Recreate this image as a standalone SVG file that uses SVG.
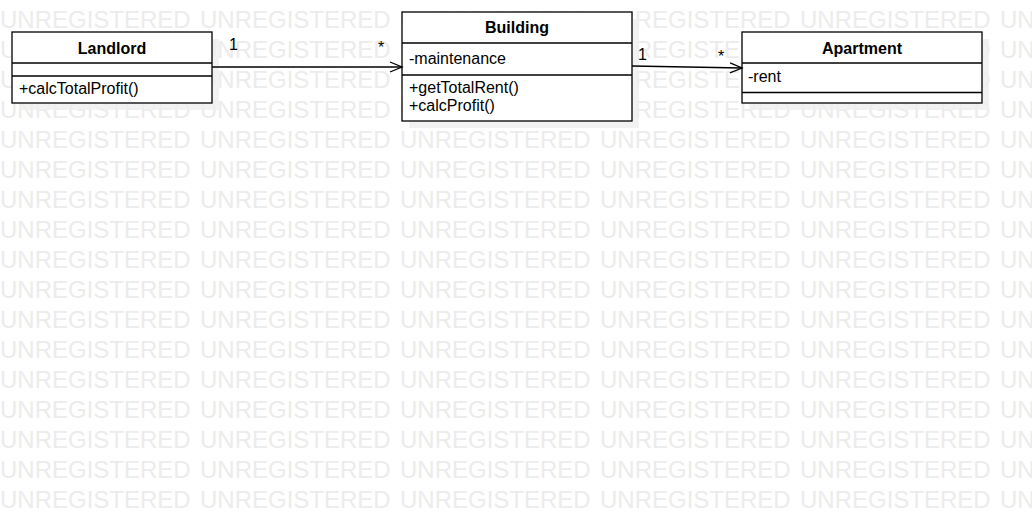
<svg xmlns="http://www.w3.org/2000/svg" xmlns:xlink="http://www.w3.org/1999/xlink" width="1032" height="520" viewBox="0 0 1032 520">
  <style>
    .wm { font-family: "Liberation Sans", Arial, sans-serif; font-size: 24px; fill: #ececec; }
    .box { fill: #ffffff; stroke: #000000; stroke-width: 1.3; }
    .shadow { fill: #efefef; opacity: 0.8; }
    .sep { stroke: #000000; stroke-width: 1.3; }
    .title { font-family: "Liberation Sans", Arial, sans-serif; font-size: 16px; font-weight: bold; fill: #000; text-anchor: middle; }
    .member { font-family: "Liberation Sans", Arial, sans-serif; font-size: 16px; fill: #000; }
    .mult { font-family: "Liberation Sans", Arial, sans-serif; font-size: 16px; fill: #000; }
    .edge { stroke: #000; stroke-width: 1.3; fill: none; }
  </style>
  <defs>
    <marker id="open" markerWidth="16" markerHeight="14" refX="13" refY="6" orient="auto" markerUnits="userSpaceOnUse">
      <path d="M1,1 L13,6 L1,11" fill="none" stroke="#000" stroke-width="1.3"/>
    </marker>
    <text id="wmrow" class="wm"><tspan x="0">UNREGISTERED</tspan><tspan x="200">UNREGISTERED</tspan><tspan x="400">UNREGISTERED</tspan><tspan x="600">UNREGISTERED</tspan><tspan x="800">UNREGISTERED</tspan><tspan x="1000">UNREGISTERED</tspan></text>
  </defs>
  <rect x="0" y="0" width="1032" height="520" fill="#ffffff"/>
  <g id="watermark">
    <use xlink:href="#wmrow" y="28"/>
    <use xlink:href="#wmrow" y="58"/>
    <use xlink:href="#wmrow" y="88"/>
    <use xlink:href="#wmrow" y="118"/>
    <use xlink:href="#wmrow" y="148"/>
    <use xlink:href="#wmrow" y="178"/>
    <use xlink:href="#wmrow" y="208"/>
    <use xlink:href="#wmrow" y="238"/>
    <use xlink:href="#wmrow" y="268"/>
    <use xlink:href="#wmrow" y="298"/>
    <use xlink:href="#wmrow" y="328"/>
    <use xlink:href="#wmrow" y="358"/>
    <use xlink:href="#wmrow" y="388"/>
    <use xlink:href="#wmrow" y="418"/>
    <use xlink:href="#wmrow" y="448"/>
    <use xlink:href="#wmrow" y="478"/>
    <use xlink:href="#wmrow" y="508"/>
  </g>
  <g id="landlord">
    <rect class="shadow" x="19" y="39" width="200" height="71"/>
    <rect class="box" x="12" y="32" width="200" height="71"/>
    <line class="sep" x1="12" y1="63" x2="212" y2="63"/>
    <line class="sep" x1="12" y1="76" x2="212" y2="76"/>
    <text class="title" x="112" y="54">Landlord</text>
    <text class="member" x="19" y="94">+calcTotalProfit()</text>
  </g>
  <g id="building">
    <rect class="shadow" x="409" y="19" width="230" height="109"/>
    <rect class="box" x="402" y="12" width="230" height="109"/>
    <line class="sep" x1="402" y1="43" x2="632" y2="43"/>
    <line class="sep" x1="402" y1="75" x2="632" y2="75"/>
    <text class="title" x="517" y="33">Building</text>
    <text class="member" x="409" y="64">-maintenance</text>
    <text class="member" x="409" y="93">+getTotalRent()</text>
    <text class="member" x="409" y="111">+calcProfit()</text>
  </g>
  <g id="apartment">
    <rect class="shadow" x="749" y="39" width="240" height="71"/>
    <rect class="box" x="742" y="32" width="240" height="71"/>
    <line class="sep" x1="742" y1="63" x2="982" y2="63"/>
    <line class="sep" x1="742" y1="92.5" x2="982" y2="92.5"/>
    <text class="title" x="862" y="54">Apartment</text>
    <text class="member" x="748" y="82">-rent</text>
  </g>
  <g id="connectors">
    <line class="edge" x1="212" y1="67" x2="402" y2="67" marker-end="url(#open)"/>
    <text class="mult" x="229" y="50">1</text>
    <text class="mult" x="378" y="53">*</text>
    <line class="edge" x1="632" y1="66" x2="742" y2="68" marker-end="url(#open)"/>
    <text class="mult" x="638" y="60">1</text>
    <text class="mult" x="718" y="62">*</text>
  </g>
</svg>
